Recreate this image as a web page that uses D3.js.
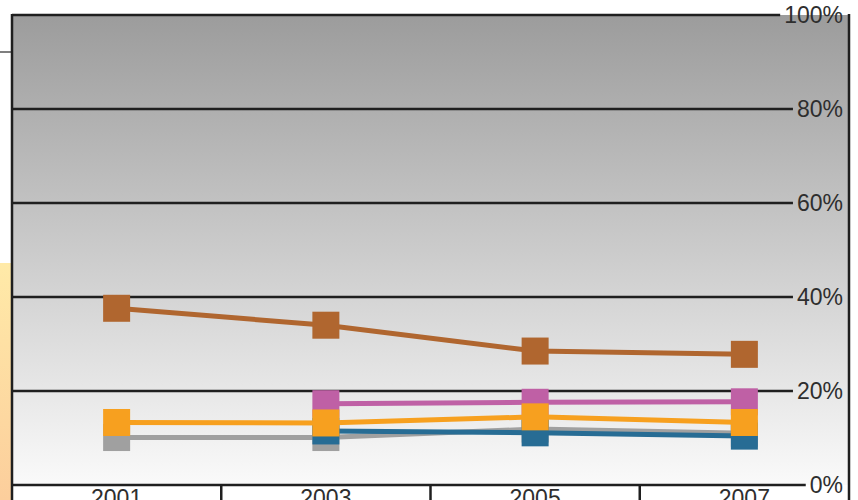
<!DOCTYPE html>
<html>
<head>
<meta charset="utf-8">
<script src="https://cdn.jsdelivr.net/npm/d3@7"></script>
<style>
  html, body { margin: 0; padding: 0; background: #fff; }
  svg { display: block; }
  text { font-family: "Liberation Sans", Arial, sans-serif; }
</style>
</head>
<body>
<svg id="chart" width="858" height="500"></svg>
<script>
// Categories and series (share in percent)
const years = ["2001", "2003", "2005", "2007"];
const brownValues  = [37.6, 34.0, 28.5, 27.8];
const pinkValues   = [null, 17.3, 17.6, 17.7];
const orangeValues = [13.3, 13.2, 14.5, 13.3];
const grayValues   = [10.1, 10.1, 11.9, 11.0];
const blueValues   = [null, 11.5, 11.1, 10.4];
const yTicks = [0, 20, 40, 60, 80, 100];

// Draw order (later series sit on top)
const series = [
  { name: "gray",   values: grayValues,   color: "#a0a0a0" },
  { name: "blue",   values: blueValues,   color: "#276c94" },
  { name: "pink",   values: pinkValues,   color: "#bf60a5" },
  { name: "orange", values: orangeValues, color: "#f7a01f" },
  { name: "brown",  values: brownValues,  color: "#b0662f" }
];

const svg = d3.select("#chart");
const W = 858, H = 500;
const plot = { left: 12, right: 849, top: 15, bottom: 485 };

const x = d3.scaleBand().domain(years).range([plot.left, plot.right]).padding(0);
const y = d3.scaleLinear().domain([0, 100]).range([plot.bottom, plot.top]);

const defs = svg.append("defs");
const bg = defs.append("linearGradient").attr("id", "bgGrad")
  .attr("x1", 0).attr("y1", 0).attr("x2", 0).attr("y2", 1);
bg.append("stop").attr("offset", "0%").attr("stop-color", "#9c9c9c");
bg.append("stop").attr("offset", "100%").attr("stop-color", "#fafafa");

const side = defs.append("linearGradient").attr("id", "sideGrad")
  .attr("x1", 0).attr("y1", 0).attr("x2", 0).attr("y2", 1);
side.append("stop").attr("offset", "0%").attr("stop-color", "#ffeaa8");
side.append("stop").attr("offset", "100%").attr("stop-color", "#fcce9c");

// Left margin strip
svg.append("rect").attr("x", 0).attr("y", 263).attr("width", plot.left).attr("height", H - 263)
  .attr("fill", "url(#sideGrad)");
svg.append("line").attr("x1", 0).attr("x2", plot.left).attr("y1", 52).attr("y2", 52)
  .attr("stroke", "#555").attr("stroke-width", 1.5);

// Plot background
svg.append("rect").attr("x", plot.left).attr("y", plot.top)
  .attr("width", plot.right - plot.left).attr("height", plot.bottom - plot.top)
  .attr("fill", "url(#bgGrad)");

// Right-side percentage labels and gridlines
const labelRight = 843;
const gridG = svg.append("g");
yTicks.forEach(t => {
  const txt = gridG.append("text")
    .attr("x", labelRight).attr("y", y(t) + 8)
    .attr("text-anchor", "end")
    .attr("font-size", 23).attr("fill", "#2e2e2e")
    .text(t + "%");
  const w = txt.node().getComputedTextLength();
  gridG.append("line")
    .attr("x1", plot.left).attr("x2", labelRight - w - 4)
    .attr("y1", y(t)).attr("y2", y(t))
    .attr("stroke", "#1f1f1f").attr("stroke-width", 2.5);
});

// Category separators and labels
const bounds = years.slice(1).map(d => x(d));
svg.append("g").selectAll("line").data(bounds).join("line")
  .attr("x1", d => d).attr("x2", d => d)
  .attr("y1", plot.bottom).attr("y2", H)
  .attr("stroke", "#1f1f1f").attr("stroke-width", 2.5);
svg.append("g").selectAll("text").data(years).join("text")
  .attr("x", d => x(d) + x.bandwidth() / 2)
  .attr("y", 506)
  .attr("text-anchor", "middle")
  .attr("font-size", 23).attr("fill", "#2e2e2e")
  .text(d => d);

// Frame lines
svg.append("line").attr("x1", plot.left).attr("x2", plot.left)
  .attr("y1", plot.top - 1).attr("y2", H)
  .attr("stroke", "#1f1f1f").attr("stroke-width", 2.5);
svg.append("line").attr("x1", plot.right).attr("x2", plot.right)
  .attr("y1", plot.top - 1).attr("y2", H)
  .attr("stroke", "#1f1f1f").attr("stroke-width", 2.5);

// Series lines and square markers
const cx = d => x(d) + x.bandwidth() / 2;
const line = d3.line()
  .defined(d => d.v != null)
  .x(d => cx(d.year))
  .y(d => y(d.v));
const size = 27;

series.forEach(s => {
  const pts = years.map((yr, i) => ({ year: yr, v: s.values[i] }));
  const g = svg.append("g").attr("class", "series-" + s.name);
  g.append("path").datum(pts)
    .attr("d", line)
    .attr("fill", "none")
    .attr("stroke", s.color)
    .attr("stroke-width", 5);
  g.selectAll("rect").data(pts.filter(p => p.v != null)).join("rect")
    .attr("x", p => cx(p.year) - size / 2)
    .attr("y", p => y(p.v) - size / 2)
    .attr("width", size).attr("height", size)
    .attr("fill", s.color);
});
</script>
</body>
</html>
